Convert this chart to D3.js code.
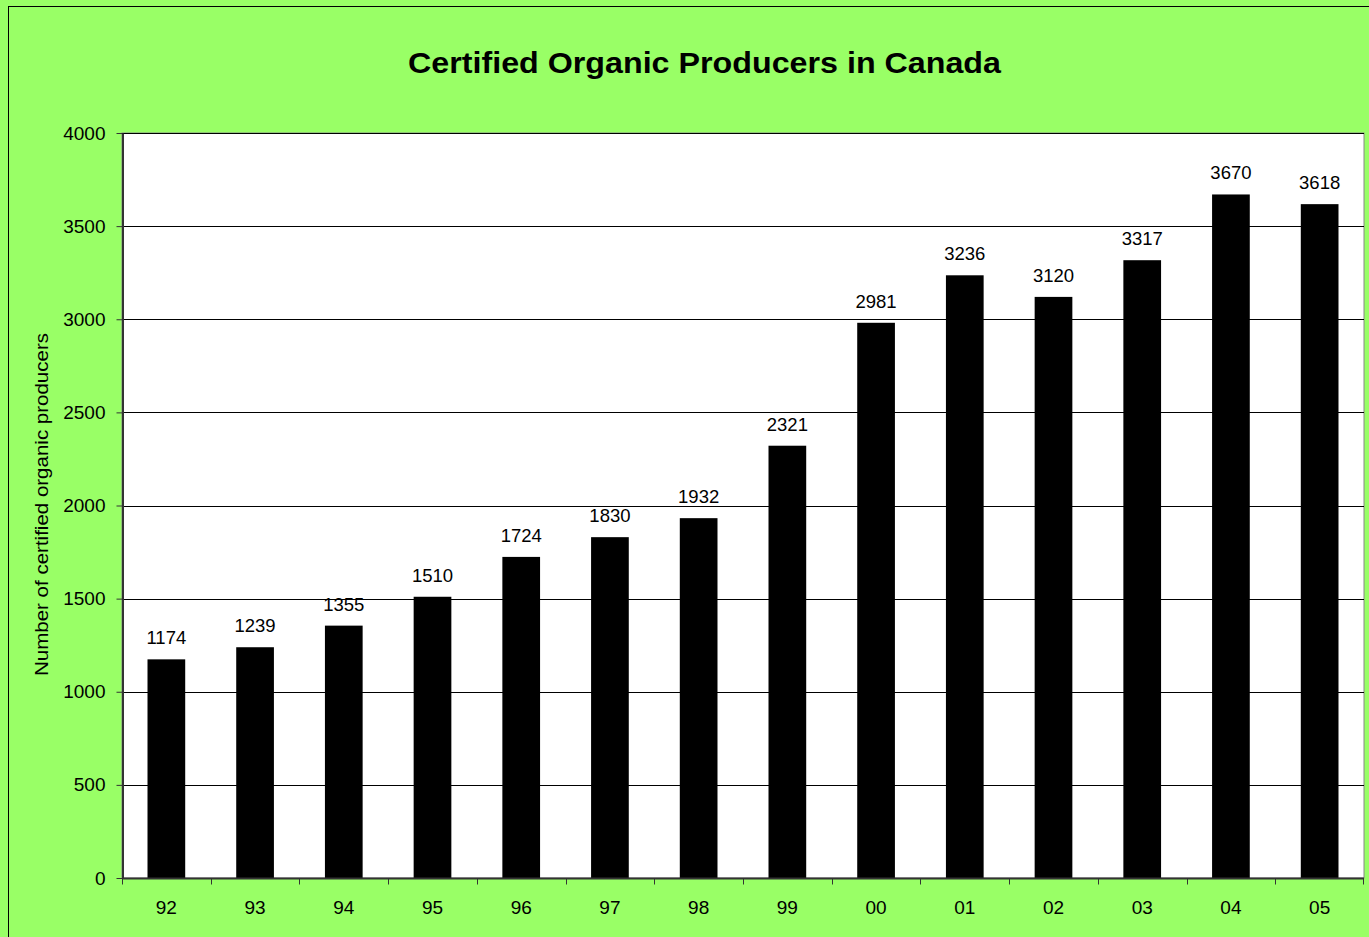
<!DOCTYPE html>
<html><head><meta charset="utf-8">
<script src="https://cdn.jsdelivr.net/npm/d3@7"></script>
<style>html,body{margin:0;padding:0;background:#99FF66;overflow:hidden}</style>
</head><body>
<svg id="c" width="1369" height="937"></svg>
<script>
const categories = ["92","93","94","95","96","97","98","99","00","01","02","03","04","05"];
const values = [1174,1239,1355,1510,1724,1830,1932,2321,2981,3236,3120,3317,3670,3618];
const yTicks = [0,500,1000,1500,2000,2500,3000,3500,4000];

const svg = d3.select("#c");
const font = "Arial, 'Liberation Sans', sans-serif";
const m = {left:122, right:1364, top:133, bottom:878};

svg.append("rect").attr("width",1369).attr("height",937).attr("fill","#99FF66");
svg.append("rect").attr("x",8.5).attr("y",6.5).attr("width",1400).attr("height",1000)
  .attr("fill","none").attr("stroke","#000").attr("stroke-width",1);

const x = d3.scaleBand().domain(categories).range([m.left,m.right]).paddingInner(0.575).paddingOuter(0.2875);
const xb = d3.scaleBand().domain(categories).range([m.left,m.right]);
const y = d3.scaleLinear().domain([0,4000]).range([m.bottom,m.top]);

svg.append("rect").attr("x",m.left).attr("y",m.top).attr("width",m.right-m.left).attr("height",m.bottom-m.top)
  .attr("fill","#fff").attr("stroke","#888").attr("stroke-width",1);

svg.append("g").selectAll("line").data(yTicks.slice(1)).join("line")
  .attr("x1",m.left).attr("x2",m.right).attr("y1",d=>Math.round(y(d))+0.5).attr("y2",d=>Math.round(y(d))+0.5)
  .attr("stroke","#000").attr("stroke-width",1);

svg.append("g").selectAll("rect").data(values).join("rect")
  .attr("x",(d,i)=>x(categories[i])).attr("width",x.bandwidth())
  .attr("y",d=>y(d)).attr("height",d=>y(0)-y(d)).attr("fill","#000");

svg.append("g").selectAll("text").data(values).join("text")
  .attr("x",(d,i)=>x(categories[i])+x.bandwidth()/2).attr("y",d=>y(d)-15)
  .attr("text-anchor","middle").attr("font-family",font).attr("font-size",18.5).attr("fill","#000")
  .text(d=>d);

// y axis
const ya = svg.append("g").attr("transform",`translate(${m.left+0.5},0)`)
  .call(d3.axisLeft(y).tickValues(yTicks).tickFormat(d3.format("d")).tickSize(6).tickPadding(11).tickSizeOuter(0));
ya.select(".domain").attr("stroke","#333").attr("stroke-width",2);
ya.selectAll(".tick line").attr("stroke","#333");
ya.selectAll("text").attr("font-family",font).attr("font-size",19).attr("fill","#000");

// x axis
const xa = svg.append("g").attr("transform",`translate(0,${m.bottom+0.5})`);
xa.append("line").attr("x1",m.left).attr("x2",m.right).attr("stroke","#333").attr("stroke-width",2);
xa.selectAll("line.t").data(categories.concat(["end"])).join("line").attr("class","t")
  .attr("x1",(d,i)=>i<categories.length?Math.round(xb(d))+0.5:m.right-0.5)
  .attr("x2",(d,i)=>i<categories.length?Math.round(xb(d))+0.5:m.right-0.5)
  .attr("y1",0).attr("y2",6).attr("stroke","#333");
xa.selectAll("text").data(categories).join("text")
  .attr("x",d=>xb(d)+xb.bandwidth()/2).attr("y",35.5)
  .attr("text-anchor","middle").attr("font-family",font).attr("font-size",19).attr("fill","#000").text(d=>d);

svg.append("text").attr("transform",`translate(47.5,504.5) rotate(-90)`)
  .attr("text-anchor","middle").attr("font-family",font).attr("font-size",18.5).attr("fill","#000")
  .attr("textLength",343).attr("lengthAdjust","spacingAndGlyphs")
  .text("Number of certified organic producers");

svg.append("text").attr("x",704.5).attr("y",73).attr("text-anchor","middle")
  .attr("font-family",font).attr("font-size",29.5).attr("font-weight","bold").attr("fill","#000")
  .attr("textLength",593).attr("lengthAdjust","spacingAndGlyphs")
  .text("Certified Organic Producers in Canada");
</script>
</body></html>
